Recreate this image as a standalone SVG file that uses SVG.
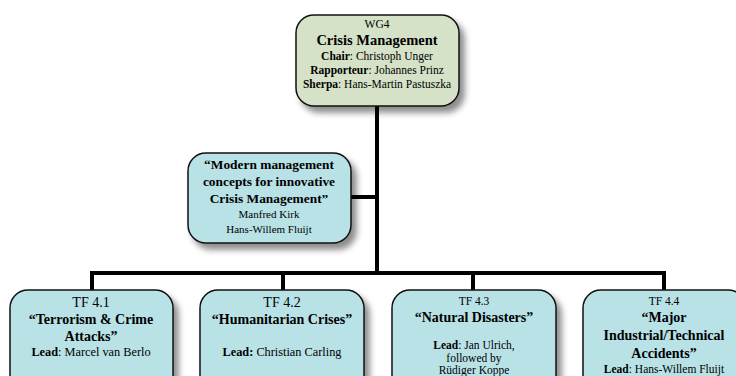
<svg xmlns="http://www.w3.org/2000/svg" width="736" height="376" viewBox="0 0 736 376">
<defs>
<filter id="sh" x="-10%" y="-10%" width="130%" height="140%">
<feDropShadow dx="5" dy="6" stdDeviation="3" flood-color="#000" flood-opacity="0.45"/>
</filter>
<style>
.box{stroke:#111;stroke-width:1.5;filter:url(#sh)}
.g{fill:#d5e2c8}
.c{fill:#b8e2e6}
text{font-family:"Liberation Serif","Times New Roman",serif;text-anchor:middle;fill:#000}
.s{font-size:11.5px}
.x{font-size:11px}
.l{font-size:12.3px}
.m{font-size:14px}
.b{font-size:14px;font-weight:bold}
.bm{font-size:13.4px;font-weight:bold}
.t{font-size:14.5px;font-weight:bold}
.k{font-weight:bold}
.ln{stroke:#000;stroke-width:4;fill:none}
</style>
</defs>
<g id="connectors">
<path class="ln" d="M377 106 V273"/>
<path class="ln" d="M350 197 H377"/>
<path class="ln" d="M92 290 V273 H664 V290"/>
<path class="ln" d="M283 273 V290"/>
<path class="ln" d="M473 273 V290"/>
</g>
<g id="wg4">
<rect class="box g" x="296" y="15" width="163" height="91" rx="18"/>
<text class="s" x="377" y="28">WG4</text>
<text class="t" x="377" y="45">Crisis Management</text>
<text class="s" x="377" y="60"><tspan class="k">Chair</tspan>: Christoph Unger</text>
<text class="s" x="377" y="74"><tspan class="k">Rapporteur</tspan>: Johannes Prinz</text>
<text class="s" x="377" y="88"><tspan class="k">Sherpa</tspan>: Hans-Martin Pastuszka</text>
</g>
<g id="modern">
<rect class="box c" x="188" y="153" width="163" height="90" rx="18"/>
<text class="bm" x="269" y="169">“Modern management</text>
<text class="bm" x="269" y="186">concepts for innovative</text>
<text class="bm" x="269" y="203">Crisis Management”</text>
<text class="x" x="269" y="218">Manfred Kirk</text>
<text class="x" x="269" y="233">Hans-Willem Fluijt</text>
</g>
<g id="tf41">
<rect class="box c" x="10" y="290" width="163" height="110" rx="18"/>
<text class="m" x="91" y="307">TF 4.1</text>
<text class="b" x="91" y="324">“Terrorism &amp; Crime</text>
<text class="b" x="91" y="341">Attacks”</text>
<text class="l" x="91" y="356"><tspan class="k">Lead</tspan>: Marcel van Berlo</text>
</g>
<g id="tf42">
<rect class="box c" x="200" y="290" width="164" height="110" rx="18"/>
<text class="m" x="282" y="307">TF 4.2</text>
<text class="b" x="282" y="324">“Humanitarian Crises”</text>
<text class="l" x="282" y="356"><tspan class="k">Lead:</tspan> Christian Carling</text>
</g>
<g id="tf43">
<rect class="box c" x="392" y="290" width="164" height="110" rx="18"/>
<text class="s" x="474" y="305">TF 4.3</text>
<text class="b" x="474" y="322">“Natural Disasters”</text>
<text class="s" x="474" y="349"><tspan class="k">Lead</tspan>: Jan Ulrich,</text>
<text class="s" x="474" y="362">followed by</text>
<text class="s" x="474" y="374">Rüdiger Koppe</text>
</g>
<g id="tf44">
<rect class="box c" x="583" y="290" width="163" height="110" rx="18"/>
<text class="s" x="664" y="305">TF 4.4</text>
<text class="b" x="664" y="322">“Major</text>
<text class="b" x="664" y="340">Industrial/Technical</text>
<text class="b" x="664" y="358">Accidents”</text>
<text class="s" x="664" y="373"><tspan class="k">Lead</tspan>: Hans-Willem Fluijt</text>
</g>
</svg>
